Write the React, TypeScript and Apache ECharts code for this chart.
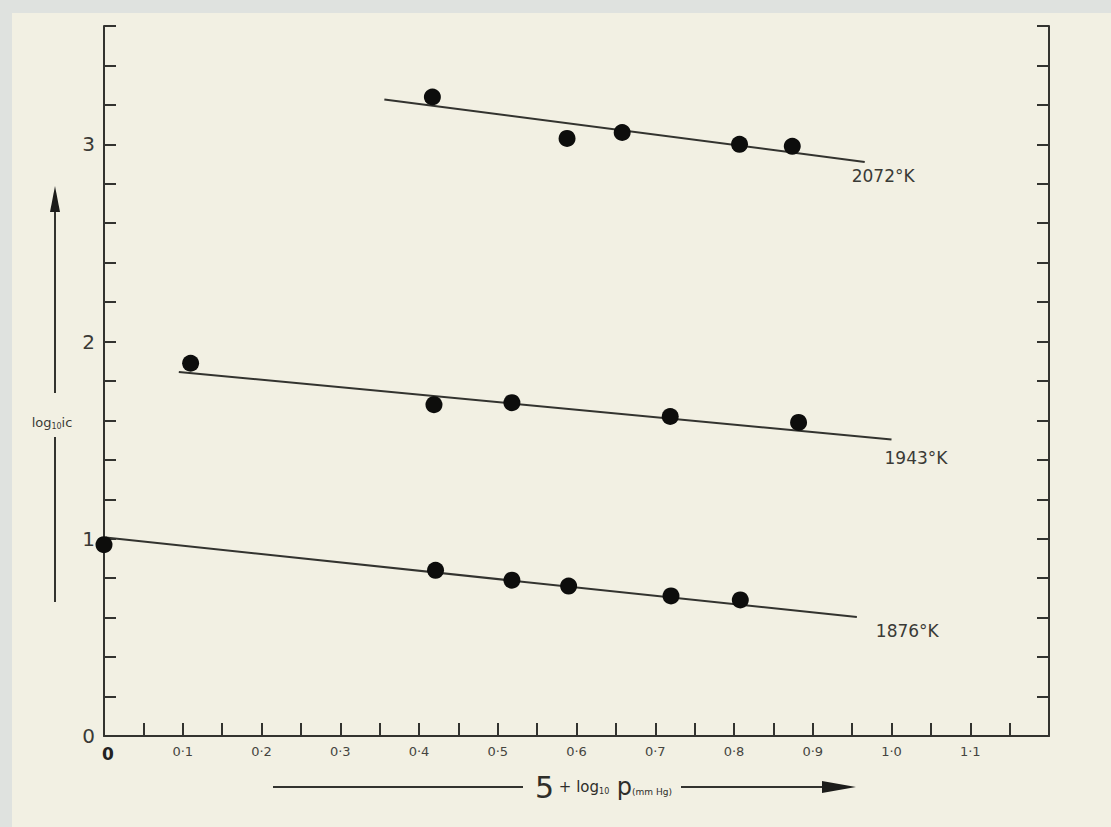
import React, { useEffect, useRef } from 'react';
import * as echarts from 'echarts';

// ---- data ----
const X_2072 = [0.417, 0.588, 0.658, 0.807, 0.874];
const Y_2072 = [3.24, 3.03, 3.06, 3.0, 2.99];
const X_1943 = [0.11, 0.419, 0.518, 0.719, 0.882];
const Y_1943 = [1.89, 1.68, 1.69, 1.62, 1.59];
const X_1876 = [0.0, 0.421, 0.518, 0.59, 0.72, 0.808];
const Y_1876 = [0.97, 0.84, 0.79, 0.76, 0.71, 0.69];

const FIT_X_2072 = [0.356, 0.966];
const FIT_Y_2072 = [3.227, 2.911];
const FIT_X_1943 = [0.095, 1.0];
const FIT_Y_1943 = [1.846, 1.503];
const FIT_X_1876 = [0.002, 0.956];
const FIT_Y_1876 = [1.006, 0.603];

const SERIES_NAMES = ['2072°K', '1943°K', '1876°K'];

const X_MIN = 0;
const X_MAX = 1.2;
const X_STEP = 0.05;
const Y_MIN = 0;
const Y_MAX = 3.6;
const Y_STEP = 0.2;

const INK = '#33332f';
const DOT = '#0d0d0c';
const PAPER = '#f2f0e3';
const EDGE = '#dfe2df';
const FONT = '"DejaVu Sans", "Liberation Sans", sans-serif';

const zip = (xs: number[], ys: number[]) => xs.map((x, i) => [x, ys[i]]);

export default function App() {
  const ref = useRef<HTMLDivElement>(null);

  useEffect(() => {
    const chart = echarts.init(ref.current!, null, { renderer: 'svg' });

    const scatter = (name: string, xs: number[], ys: number[]) => ({
      type: 'scatter',
      name,
      data: zip(xs, ys),
      symbol: 'circle',
      symbolSize: 17,
      itemStyle: { color: DOT, opacity: 1 },
      clip: false,
      z: 4,
    });

    const fit = (name: string, xs: number[], ys: number[], offset: number[]) => ({
      type: 'line',
      name: name + ' fit',
      data: zip(xs, ys),
      symbol: 'none',
      lineStyle: { color: INK, width: 2 },
      z: 3,
      endLabel: {
        show: true,
        formatter: () => name,
        color: '#3a3a36',
        fontSize: 17,
        fontFamily: FONT,
        offset,
      },
    });

    const xLabel = (v: number) => {
      if (Math.abs(v) < 1e-6) return '{z|0}';
      const t = Math.round(v * 100);
      if (t % 10 !== 0 || t > 110) return '';
      return (t / 100).toFixed(1).replace('.', '·');
    };

    const option = {
      animation: false,
      backgroundColor: EDGE,
      grid: { left: 104, right: 62, top: 26, bottom: 91, containLabel: false },
      xAxis: {
        type: 'value',
        min: X_MIN,
        max: X_MAX,
        interval: X_STEP,
        axisLine: { show: true, onZero: false, lineStyle: { color: INK, width: 2 } },
        axisTick: { show: true, inside: true, length: 13, lineStyle: { color: INK, width: 2 } },
        splitLine: { show: false },
        axisLabel: {
          show: true,
          margin: 9,
          color: '#45453f',
          fontSize: 13,
          fontFamily: FONT,
          formatter: xLabel,
          rich: {
            z: { fontSize: 17, fontWeight: 'bold', color: '#222', fontFamily: FONT, padding: [0, 0, 0, 8] },
          },
        },
      },
      yAxis: [
        {
          type: 'value',
          min: Y_MIN,
          max: Y_MAX,
          interval: Y_STEP,
          axisLine: { show: true, onZero: false, lineStyle: { color: INK, width: 2 } },
          axisTick: { show: true, inside: true, length: 12, lineStyle: { color: INK, width: 2 } },
          splitLine: { show: false },
          axisLabel: {
            show: true,
            margin: 9,
            color: '#3a3a36',
            fontSize: 20,
            fontFamily: FONT,
            formatter: (v: number) => (Math.abs(v - Math.round(v)) < 1e-6 ? String(Math.round(v)) : ''),
          },
        },
        {
          type: 'value',
          position: 'right',
          min: Y_MIN,
          max: Y_MAX,
          interval: Y_STEP,
          axisLine: { show: true, onZero: false, lineStyle: { color: INK, width: 2 } },
          axisTick: { show: true, inside: true, length: 12, lineStyle: { color: INK, width: 2 } },
          splitLine: { show: false },
          axisLabel: { show: false },
        },
      ],
      graphic: [
        {
          type: 'rect',
          z: -10,
          silent: true,
          shape: { x: 12, y: 13, width: 1099, height: 814 },
          style: { fill: PAPER },
        },
        // y-axis title arrow
        { type: 'line', shape: { x1: 55, y1: 205, x2: 55, y2: 393 }, style: { stroke: INK, lineWidth: 2 } },
        { type: 'polygon', shape: { points: [[55, 186], [50, 212], [60, 212]] }, style: { fill: '#1c1c1a' } },
        {
          type: 'text',
          x: 52,
          y: 422,
          style: {
            text: '{a|log}{s|10}{a|ic}',
            align: 'center',
            verticalAlign: 'middle',
            rich: {
              a: { fontSize: 13, fontFamily: FONT, fill: '#3a3a36' },
              s: { fontSize: 8, fontFamily: FONT, fill: '#3a3a36', padding: [8, 0, 0, 0] },
            },
          },
        },
        { type: 'line', shape: { x1: 55, y1: 437, x2: 55, y2: 602 }, style: { stroke: INK, lineWidth: 2 } },
        // x-axis title arrow
        { type: 'line', shape: { x1: 273, y1: 787, x2: 523, y2: 787 }, style: { stroke: INK, lineWidth: 2 } },
        {
          type: 'text',
          x: 535,
          y: 787,
          style: {
            text: '{a|5}{b| + log}{s|10}{c| p}{d|(mm Hg)}',
            verticalAlign: 'middle',
            rich: {
              a: { fontSize: 30, fontFamily: FONT, fill: '#2e2e2a' },
              b: { fontSize: 15, fontFamily: FONT, fill: '#2e2e2a' },
              s: { fontSize: 8, fontFamily: FONT, fill: '#2e2e2a', padding: [8, 0, 0, 0] },
              c: { fontSize: 24, fontFamily: FONT, fill: '#2e2e2a' },
              d: { fontSize: 9, fontFamily: FONT, fill: '#2e2e2a', padding: [10, 0, 0, 0] },
            },
          },
        },
        { type: 'line', shape: { x1: 681, y1: 787, x2: 830, y2: 787 }, style: { stroke: INK, lineWidth: 2 } },
        { type: 'polygon', shape: { points: [[822, 781], [856, 787], [822, 793]] }, style: { fill: '#1c1c1a' } },
      ],
      series: [
        fit(SERIES_NAMES[0], FIT_X_2072, FIT_Y_2072, [-21, 14]),
        fit(SERIES_NAMES[1], FIT_X_1943, FIT_Y_1943, [-15, 18]),
        fit(SERIES_NAMES[2], FIT_X_1876, FIT_Y_1876, [11, 14]),
        scatter(SERIES_NAMES[0], X_2072, Y_2072),
        scatter(SERIES_NAMES[1], X_1943, Y_1943),
        scatter(SERIES_NAMES[2], X_1876, Y_1876),
      ],
    };

    chart.setOption(option as any);
    return () => chart.dispose();
  }, []);

  return (
    <div
      ref={ref}
      style={{ position: 'fixed', left: 0, top: 0, width: 1111, height: 827 }}
    />
  );
}
